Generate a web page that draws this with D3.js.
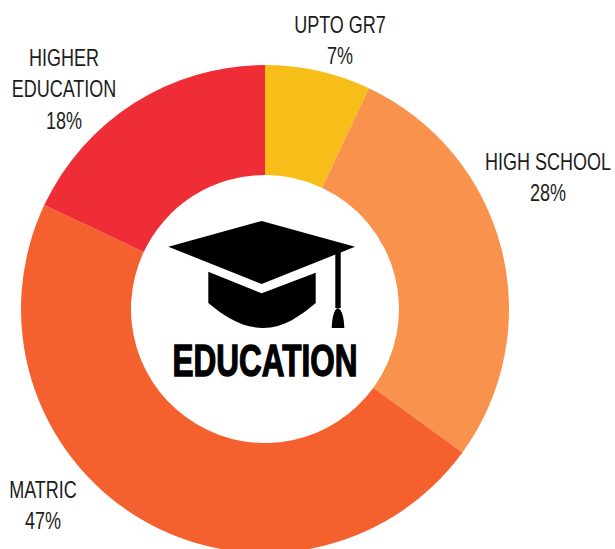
<!DOCTYPE html>
<html><head><meta charset="utf-8">
<script src="https://cdn.jsdelivr.net/npm/d3@7"></script>
<style>html,body{margin:0;padding:0;background:#fff;overflow:hidden}svg{display:block}</style>
</head><body><svg id="c" width="615" height="549"></svg>
<script>
const categories = ["UPTO GR7","HIGH SCHOOL","MATRIC","HIGHER EDUCATION"];
const values = [7,28,47,18];
const colors = ["#F7BE1A","#F8924C","#F4602E","#EF2D36"];
const labelLines = [["UPTO GR7","7%"],["HIGH SCHOOL","28%"],["MATRIC","47%"],["HIGHER","EDUCATION","18%"]];
const labelAnchors = [[340,33],[548,170],[43,498],[64,66]];
const labelScale = 0.75;
const centerTitle = "EDUCATION";

const svg = d3.select("#c");
const cx=265,cy=309,R=244,r=134;
const font = "'Liberation Sans',Arial,sans-serif";
const pie = d3.pie().sort(null).value(d=>d);
const arc = d3.arc().innerRadius(r).outerRadius(R);
const g = svg.append("g").attr("transform",`translate(${cx},${cy})`);
g.selectAll("path").data(pie(values)).join("path").attr("d",arc).attr("fill",(d,i)=>colors[i]);

labelLines.forEach((lines,i)=>{
  const t = svg.append("text")
    .attr("transform",`translate(${labelAnchors[i][0]},${labelAnchors[i][1]}) scale(${labelScale},1)`)
    .attr("text-anchor","middle").attr("font-family",font).attr("font-size",24).attr("fill","#1c1c1c");
  lines.forEach((s,j)=>t.append("tspan").attr("x",0).attr("y",j*31.5).text(s));
});

const ic = svg.append("g").attr("fill","#000");
ic.append("path").attr("d","M261.7 221L355 246.7L261.7 284L168.3 246.7Z");
ic.append("path").attr("d","M208.3 271.7L261.7 293.3L315.7 272.7L315.7 303C300 316 284 328 263 328C242 328 224 316 208.3 303Z");
ic.append("path").attr("d","M335.3 253L340.7 251L340.7 308L335.3 308Z");
ic.append("path").attr("d","M331.7 328C332 318 334 309 337.7 308C342 309 344 318 344.3 328Z");

svg.append("text")
  .attr("transform","translate(265,375.5) scale(0.7,1)")
  .attr("text-anchor","middle").attr("font-family",font).attr("font-weight",700)
  .attr("font-size",45).attr("fill","#000").attr("stroke","#000").attr("stroke-width",1.4)
  .text(centerTitle);
</script></body></html>
